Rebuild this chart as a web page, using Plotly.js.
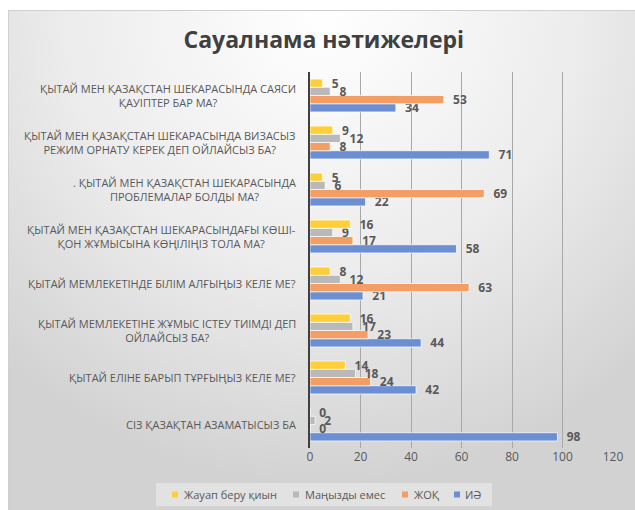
<!DOCTYPE html>
<html>
<head>
<meta charset="utf-8">
<script src="https://cdn.plot.ly/plotly-3.0.1.min.js"></script>
<style>
html,body{margin:0;padding:0;background:#fff;}
#bg{position:absolute;left:8px;top:10px;width:627px;height:500px;
background:radial-gradient(ellipse 75% 95% at 50% 0%, #ffffff 0%, #ececec 55%, #d2d2d2 100%);
border-top:1px solid #d0d0d0;border-left:1px solid #d0d0d0;}
#chart{position:absolute;left:0;top:0;width:635px;height:510px;}
</style>
</head>
<body>
<div id="bg"></div>
<div id="chart"></div>
<script>
// Categories, top to bottom as in the picture
var categories = [
  "ҚЫТАЙ МЕН ҚАЗАҚСТАН ШЕКАРАСЫНДА САЯСИ<br>ҚАУІПТЕР БАР МА?",
  "ҚЫТАЙ МЕН ҚАЗАҚСТАН ШЕКАРАСЫНДА ВИЗАСЫЗ<br>РЕЖИМ ОРНАТУ КЕРЕК ДЕП ОЙЛАЙСЫЗ БА?",
  ". ҚЫТАЙ МЕН ҚАЗАҚСТАН ШЕКАРАСЫНДА<br>ПРОБЛЕМАЛАР БОЛДЫ МА?",
  "ҚЫТАЙ МЕН ҚАЗАҚСТАН ШЕКАРАСЫНДАҒЫ КӨШІ-<br>ҚОН ЖҰМЫСЫНА КӨҢІЛІҢІЗ ТОЛА МА?",
  "ҚЫТАЙ МЕМЛЕКЕТІНДЕ БІЛІМ АЛҒЫҢЫЗ КЕЛЕ МЕ?",
  "ҚЫТАЙ МЕМЛЕКЕТІНЕ ЖҰМЫС ІСТЕУ ТИІМДІ ДЕП<br>ОЙЛАЙСЫЗ БА?",
  "ҚЫТАЙ ЕЛІНЕ БАРЫП ТҰРҒЫҢЫЗ КЕЛЕ МЕ?",
  "СІЗ ҚАЗАҚТАН АЗАМАТЫСЫЗ БА"
];
var seriesNames = ["ИӘ", "ЖОҚ", "Маңызды емес", "Жауап беру қиын"];
var valuesIa      = [34, 71, 22, 58, 21, 44, 42, 98];
var valuesZhoq    = [53, 8, 69, 17, 63, 23, 24, 0];
var valuesMangyz  = [8, 12, 6, 9, 12, 17, 18, 2];
var valuesQiyn    = [5, 9, 5, 16, 8, 16, 14, 0];
var xTicks = [0, 20, 40, 60, 80, 100, 120];

var colors = ["#6C8FD3", "#F29E64", "#B9B9B9", "#FFCF3A"];
var allValues = [valuesIa, valuesZhoq, valuesMangyz, valuesQiyn];

var W = 635, H = 510, M = {l: 310, r: 22, t: 72, b: 62};
var PW = W - M.l - M.r, PH = H - M.t - M.b;
function px2x(px){ return (px - M.l) / PW; }
function py2y(py){ return (H - M.b - py) / PH; }

var traces = allValues.map(function(v, i){
  return {
    type: "bar", orientation: "h",
    name: seriesNames[i],
    y: categories, x: v,
    text: v.map(function(d){ return "\u00a0\u00a0" + d; }), textposition: "outside",
    constraintext: "none",
    cliponaxis: false,
    textfont: {family: "Open Sans", size: 12, color: "#595959", weight: "bold"},
    marker: {color: colors[i], line: {color: "rgba(255,255,255,0.7)", width: 1}},
    hoverinfo: "x+name",
    showlegend: false
  };
});

var annotations = categories.map(function(c){
  return {
    xref: "paper", yref: "y", x: 0, y: c, xanchor: "right", yanchor: "middle",
    xshift: -12, text: c, showarrow: false, align: "center",
    font: {family: "Open Sans", size: 11, color: "#595959"}
  };
});

// Custom legend (order as in the picture: reversed series order)
var shapes = [{
  type: "rect", xref: "paper", yref: "paper", layer: "below",
  x0: px2x(156), x1: px2x(492), y0: py2y(506), y1: py2y(483),
  fillcolor: "#e2e2e2", line: {width: 0}
}];
var legendSquareX = [454, 402, 293, 172];   // per series index
var legendTextX   = [463, 412, 303, 182];
for (var i = 0; i < seriesNames.length; i++) {
  shapes.push({
    type: "rect", xref: "paper", yref: "paper",
    x0: px2x(legendSquareX[i]), x1: px2x(legendSquareX[i] + 6),
    y0: py2y(497.5), y1: py2y(491.5),
    fillcolor: colors[i], line: {width: 0}
  });
  annotations.push({
    xref: "paper", yref: "paper", x: px2x(legendTextX[i]), y: py2y(494.5),
    xanchor: "left", yanchor: "middle", showarrow: false, text: seriesNames[i],
    font: {family: "Open Sans", size: 11, color: "#595959"}
  });
}

var layout = {
  width: W, height: H,
  paper_bgcolor: "rgba(0,0,0,0)", plot_bgcolor: "rgba(0,0,0,0)",
  margin: {l: M.l, r: M.r, t: M.t, b: M.b, autoexpand: false},
  title: {text: "<b>Сауалнама нәтижелері</b>", x: 0.51, xref: "container", y: 0.922, yref: "container", yanchor: "middle",
    font: {family: "Open Sans", size: 23, color: "#404040"}},
  barmode: "group", bargap: 0.3, bargroupgap: 0,
  showlegend: false,
  xaxis: {range: [0, 120], tickvals: xTicks, showgrid: true, gridcolor: "#a8a8a8", gridwidth: 1,
    zeroline: false, showline: false, ticks: "",
    tickfont: {family: "Open Sans", size: 12, color: "#595959"}, fixedrange: true},
  yaxis: {categoryorder: "array", categoryarray: categories.slice().reverse(),
    showticklabels: false, showgrid: false, zeroline: false,
    showline: true, linecolor: "#404040", linewidth: 2, ticks: "", fixedrange: true},
  annotations: annotations,
  shapes: shapes
};

Plotly.newPlot("chart", traces, layout, {displayModeBar: false, staticPlot: true});
</script>
</body>
</html>
